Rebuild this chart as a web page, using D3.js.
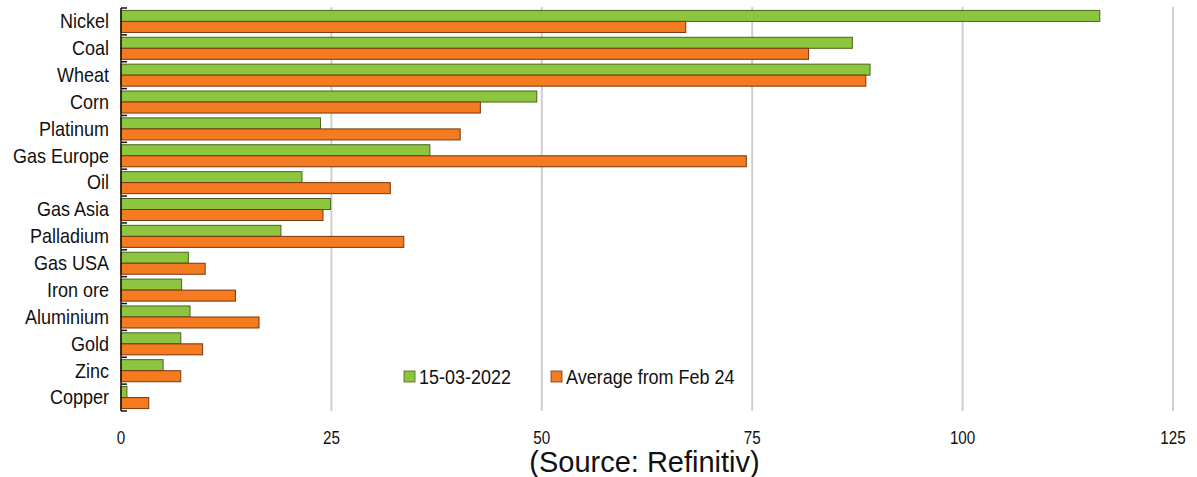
<!DOCTYPE html>
<html>
<head>
<meta charset="utf-8">
<script src="https://cdn.jsdelivr.net/npm/d3@7"></script>
<style>
  body { margin: 0; background: #fff; }
  svg { display: block; font-family: "Liberation Sans", Arial, sans-serif; }
</style>
</head>
<body>
<svg id="chart" width="1197" height="477"></svg>
<script>
const categories = ['Nickel', 'Coal', 'Wheat', 'Corn', 'Platinum', 'Gas Europe', 'Oil', 'Gas Asia',
  'Palladium', 'Gas USA', 'Iron ore', 'Aluminium', 'Gold', 'Zinc', 'Copper'];
const seriesNames = ['15-03-2022', 'Average from Feb 24'];
const latest = [116.3, 86.9, 89.0, 49.4, 23.7, 36.7, 21.5, 24.9, 19.0, 8.0, 7.2, 8.2, 7.1, 5.0, 0.7];
const avgFeb24 = [67.1, 81.7, 88.5, 42.7, 40.3, 74.3, 32.0, 24.0, 33.6, 10.0, 13.6, 16.4, 9.7, 7.1, 3.3];
const xTicks = [0, 25, 50, 75, 100, 125];

const fills = ['#8cc63f', '#f47b20'];
const strokes = ['#4a6220', '#7a3510'];

const svg = d3.select('#chart');
const margin = { top: 8, left: 121, right: 24, bottom: 66 };
const width = 1197, height = 477;

const x = d3.scaleLinear().domain([0, 125]).range([margin.left, width - margin.right]);
const y = d3.scaleBand().domain(categories).range([margin.top, height - margin.bottom])
  .paddingInner(0.18).paddingOuter(0.09);
const ySub = d3.scaleBand().domain(seriesNames).range([0, y.bandwidth()]);

const rows = categories.map((c, i) => ({ name: c, values: [latest[i], avgFeb24[i]] }));

// gridlines
svg.append('g')
  .selectAll('line')
  .data(xTicks.filter((d) => d > 0))
  .enter()
  .append('line')
  .attr('x1', (d) => x(d)).attr('x2', (d) => x(d))
  .attr('y1', margin.top - 1).attr('y2', height - margin.bottom)
  .attr('stroke', '#cfcfcf')
  .attr('stroke-width', 2);

// bars
const groups = svg.append('g')
  .selectAll('g')
  .data(rows)
  .enter()
  .append('g')
  .attr('transform', (d) => `translate(0,${y(d.name)})`);

groups.selectAll('rect')
  .data((d) => d.values.map((v, j) => ({ key: seriesNames[j], value: v, j })))
  .enter()
  .append('rect')
  .attr('x', x(0))
  .attr('y', (d) => ySub(d.key))
  .attr('width', (d) => x(d.value) - x(0))
  .attr('height', ySub.bandwidth())
  .attr('fill', (d) => fills[d.j])
  .attr('stroke', (d) => strokes[d.j])
  .attr('stroke-width', 1);

// left axis with band-boundary ticks pointing inward
const step = y.step();
const bounds = d3.range(categories.length + 1).map((i) => margin.top + i * step);
svg.append('line')
  .attr('x1', x(0)).attr('x2', x(0))
  .attr('y1', margin.top).attr('y2', height - margin.bottom)
  .attr('stroke', '#111').attr('stroke-width', 1.5);
svg.append('g')
  .selectAll('line')
  .data(bounds)
  .enter()
  .append('line')
  .attr('x1', x(0)).attr('x2', x(0) + 6)
  .attr('y1', (d) => d).attr('y2', (d) => d)
  .attr('stroke', '#111').attr('stroke-width', 1.5);

svg.append('g')
  .selectAll('text')
  .data(categories)
  .enter()
  .append('text')
  .attr('transform', (d) => `translate(${x(0) - 12},${y(d) + y.bandwidth() / 2}) scale(1,1.08)`)
  .attr('dy', '0.35em')
  .attr('text-anchor', 'end')
  .attr('font-size', 18)
  .attr('fill', '#111')
  .text((d) => d);

// x tick labels
svg.append('g')
  .selectAll('text')
  .data(xTicks)
  .enter()
  .append('text')
  .attr('transform', (d) => `translate(${x(d)},444) scale(0.95,1.1)`)
  .attr('text-anchor', 'middle')
  .attr('font-size', 16)
  .attr('fill', '#111')
  .text((d) => d);

// legend
const legendX = [404, 551];
const legend = svg.append('g')
  .selectAll('g')
  .data(seriesNames)
  .enter()
  .append('g')
  .attr('transform', (d, i) => `translate(${legendX[i]},371)`);
legend.append('rect')
  .attr('width', 11).attr('height', 11)
  .attr('fill', (d, i) => fills[i])
  .attr('stroke', (d, i) => strokes[i])
  .attr('stroke-width', 0.8);
legend.append('text')
  .attr('transform', 'translate(15,6) scale(1,1.15)')
  .attr('dy', '0.35em')
  .attr('font-size', 18)
  .attr('fill', '#111')
  .text((d) => d);

// source note
svg.append('text')
  .attr('x', 644.5)
  .attr('y', 472)
  .attr('text-anchor', 'middle')
  .attr('font-size', 29)
  .attr('fill', '#111')
  .text('(Source: Refinitiv)');
</script>
</body>
</html>
